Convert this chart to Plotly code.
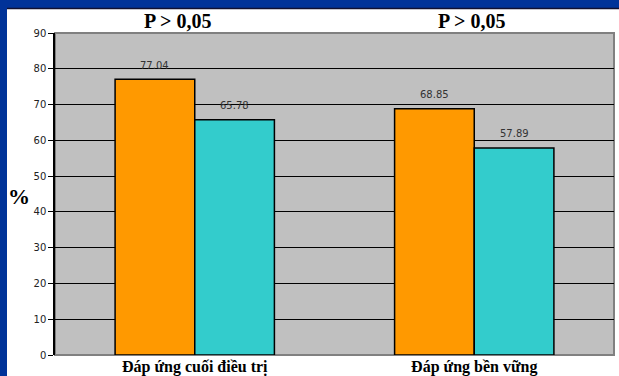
import plotly.graph_objects as go

categories = ["Đáp ứng cuối điều trị", "Đáp ứng bền vững"]
series_a = [77.04, 68.85]
series_b = [65.78, 57.89]
p_labels = ["P > 0,05", "P > 0,05"]
y_ticks = list(range(0, 91, 10))

W, H = 619, 376
L, R, T, B = 55, 5, 33, 21
pw, ph = W - L - R, H - T - B

fig = go.Figure()
fig.add_trace(go.Bar(x=categories, y=series_a, marker=dict(color="#FF9900", line=dict(color="black", width=1.5)), name="A"))
fig.add_trace(go.Bar(x=categories, y=series_b, marker=dict(color="#33CCCC", line=dict(color="black", width=1.5)), name="B"))

ann = []
for i, c in enumerate(categories):
    for v, dx in ((series_a[i], -40), (series_b[i], 40)):
        ann.append(dict(x=c, y=v, xref="x", yref="y", xshift=dx, yshift=14, text=f"{v:.2f}",
                        showarrow=False, xanchor="center",
                        font=dict(family="DejaVu Sans", size=10, color="#333333")))
for xp, t in zip([(178 - L) / pw, (472 - L) / pw], p_labels):
    ann.append(dict(x=xp, y=1 + (33 - 21) / ph, xref="paper", yref="paper", text=f"<b>{t}</b>",
                    showarrow=False, xanchor="center", yanchor="middle",
                    font=dict(family="Liberation Serif", size=20, color="black")))
ann.append(dict(x=-(L - 19) / pw, y=1 - (196 - T) / ph, xref="paper", yref="paper", text="<b>%</b>",
                showarrow=False, xanchor="center", yanchor="middle",
                font=dict(family="Liberation Serif", size=22, color="black")))

shapes = [
    dict(type="rect", xref="paper", yref="paper", x0=-L / pw, x1=1 + R / pw, y0=1 + (T - 8) / ph, y1=1 + T / ph,
         fillcolor="#003399", line=dict(width=0), layer="above"),
    dict(type="line", xref="paper", yref="paper", x0=-L / pw, x1=1 + R / pw, y0=1 + (T - 8.5) / ph, y1=1 + (T - 8.5) / ph,
         line=dict(color="#101030", width=1.5), layer="above"),
    dict(type="rect", xref="paper", yref="paper", x0=-L / pw, x1=-(L - 7) / pw, y0=-B / ph, y1=1 + T / ph,
         fillcolor="#003399", line=dict(width=0), layer="above"),
    dict(type="rect", xref="paper", yref="paper", x0=0, x1=1, y0=0, y1=1,
         line=dict(color="#808080", width=2), layer="below"),
]

fig.update_layout(
    width=W, height=H, margin=dict(l=L, r=R, t=T, b=B),
    paper_bgcolor="white", plot_bgcolor="#C0C0C0",
    barmode="group", bargap=0.43, bargroupgap=0,
    showlegend=False, annotations=ann, shapes=shapes,
    xaxis=dict(showgrid=False, tickfont=dict(family="Liberation Serif", size=16, color="black"),
               ticks="", showline=False, automargin=False),
    yaxis=dict(range=[0, 90], tickvals=y_ticks, showgrid=True, gridcolor="black", gridwidth=1,
               ticks="outside", ticklen=5, tickcolor="black", showline=True, linecolor="black", linewidth=1.5,
               tickfont=dict(family="DejaVu Sans", size=10, color="#222222"), zeroline=False, automargin=False),
)
fig.update_xaxes(tickprefix="<b>", ticksuffix="</b>")
fig.write_html("out.html")
